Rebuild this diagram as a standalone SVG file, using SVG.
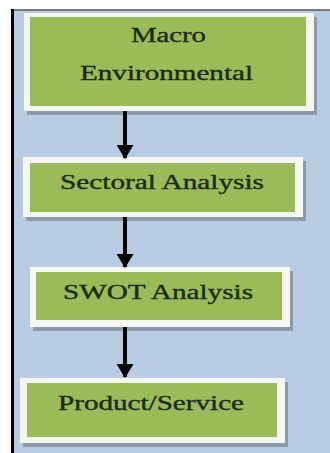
<svg xmlns="http://www.w3.org/2000/svg" width="330" height="453" viewBox="0 0 330 453">
<style>
.shadow{fill:#7f8b96;opacity:0.75}
.outer{fill:#f4f7f2}
.inner{fill:#9bbb59}
.lbl{font-family:"Liberation Serif","Times New Roman",serif;font-size:20px;fill:#1b2a12;stroke:#1b2a12;stroke-width:0.35;text-anchor:middle}
.conn line{stroke:#000;stroke-width:4}
</style>
<defs>
<marker id="ah" markerUnits="userSpaceOnUse" markerWidth="14" markerHeight="17" refX="13" refY="8.5" orient="auto" viewBox="0 0 14 17">
<polygon points="0,0 14,8.5 0,17" fill="#000"/>
</marker>
</defs>
<rect x="0" y="0" width="330" height="453" fill="#ffffff"/>
<rect x="12" y="10" width="318" height="443" fill="#b8cce4"/>
<line x1="11" y1="10" x2="330" y2="10" stroke="#555" stroke-width="1.5"/>
<line x1="12.5" y1="9" x2="12.5" y2="453" stroke="#000" stroke-width="3"/>

<g id="macro">
<rect class="shadow" x="27" y="17" width="290" height="98"/>
<rect class="outer" x="24" y="13" width="290" height="98"/>
<rect class="inner" x="30" y="17" width="276" height="89"/>
<text class="lbl" x="168.5" y="42" textLength="75" lengthAdjust="spacingAndGlyphs">Macro</text>
<text class="lbl" x="166.5" y="80" textLength="173" lengthAdjust="spacingAndGlyphs">Environmental</text>
</g>

<g id="sectoral">
<rect class="shadow" x="26" y="161" width="280" height="60"/>
<rect class="outer" x="23" y="157" width="280" height="60"/>
<rect class="inner" x="30" y="163" width="265" height="49"/>
<text class="lbl" x="162" y="189" textLength="204" lengthAdjust="spacingAndGlyphs">Sectoral Analysis</text>
</g>

<g id="swot">
<rect class="shadow" x="33" y="271" width="260" height="60"/>
<rect class="outer" x="30" y="267" width="260" height="60"/>
<rect class="inner" x="36" y="272" width="246" height="48"/>
<text class="lbl" x="158" y="299" textLength="190" lengthAdjust="spacingAndGlyphs">SWOT Analysis</text>
</g>

<g id="product">
<rect class="shadow" x="23" y="382" width="265" height="65"/>
<rect class="outer" x="20" y="378" width="265" height="65"/>
<rect class="inner" x="27" y="383" width="250" height="54"/>
<text class="lbl" x="151" y="410" textLength="186" lengthAdjust="spacingAndGlyphs">Product/Service</text>
</g>

<g id="connectors" class="conn">
<line x1="125" y1="111" x2="125" y2="158" marker-end="url(#ah)"/>
<line x1="125" y1="217" x2="125" y2="267" marker-end="url(#ah)"/>
<line x1="125" y1="327" x2="125" y2="377" marker-end="url(#ah)"/>
</g>
</svg>
